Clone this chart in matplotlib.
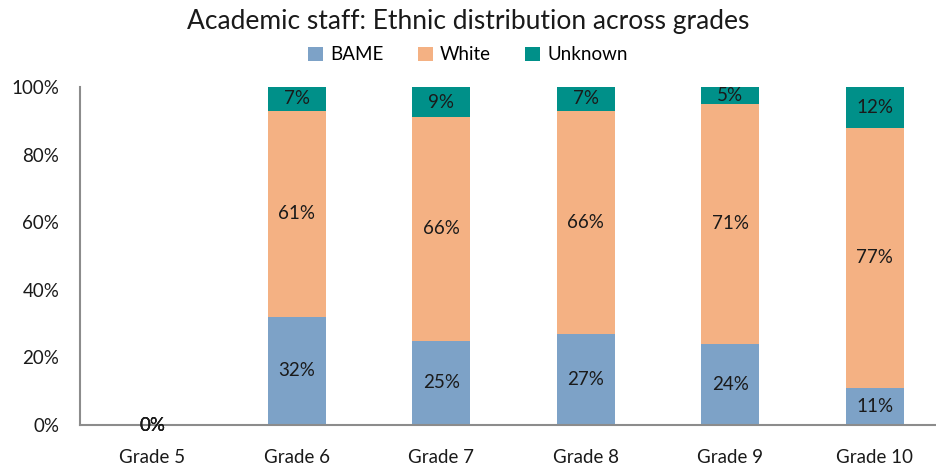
import matplotlib.pyplot as plt
import numpy as np

plt.rcParams['font.family'] = ['Lato', 'DejaVu Sans']

grades = ['Grade 5', 'Grade 6', 'Grade 7', 'Grade 8', 'Grade 9', 'Grade 10']
bame = [0, 32, 25, 27, 24, 11]
white = [0, 61, 66, 66, 71, 77]
unknown = [0, 7, 9, 7, 5, 12]

colors = {'BAME': '#7da2c7', 'White': '#f4b183', 'Unknown': '#009089'}

fig = plt.figure(figsize=(9.36, 4.65), dpi=100)
ax = fig.add_axes([80 / 936, 1 - 425 / 465, 867 / 936, 338 / 465])

x = np.arange(len(grades))
w = 0.4
bottom = np.zeros(len(grades))
for name, vals in [('BAME', bame), ('White', white), ('Unknown', unknown)]:
    vals = np.array(vals, dtype=float)
    ax.bar(x, vals, w, bottom=bottom, color=colors[name], label=name)
    for xi, b, v in zip(x, bottom, vals):
        ax.text(xi, b + v / 2, f'{int(v)}%', ha='center', va='center',
                fontsize=13.5, color='#1a1a1a', clip_on=False)
    bottom += vals

ax.set_xlim(-0.5, len(grades) - 0.5)
ax.set_ylim(0, 100)
ax.set_yticks(range(0, 101, 20))
ax.set_yticklabels([f'{v}%' for v in range(0, 101, 20)])
ax.set_xticks(x)
ax.set_xticklabels(grades)
ax.tick_params(length=0, labelsize=13.5, colors='#1a1a1a')
ax.tick_params(axis='y', pad=15)
ax.tick_params(axis='x', pad=17)
for s in ['top', 'right']:
    ax.spines[s].set_visible(False)
for s in ['left', 'bottom']:
    ax.spines[s].set_color('#8c8c8c')
    ax.spines[s].set_linewidth(1.5)

fig.text(0.5, 1 - 22 / 465, 'Academic staff: Ethnic distribution across grades',
         ha='center', va='center', fontsize=19, color='#1a1a1a')
fig.legend(loc='center', bbox_to_anchor=(0.5, 1 - 55 / 465), ncol=3,
           frameon=False, fontsize=13.5, handlelength=0.8, handleheight=0.8,
           columnspacing=1.8, handletextpad=0.4)

fig.savefig('out.png', dpi=100)
